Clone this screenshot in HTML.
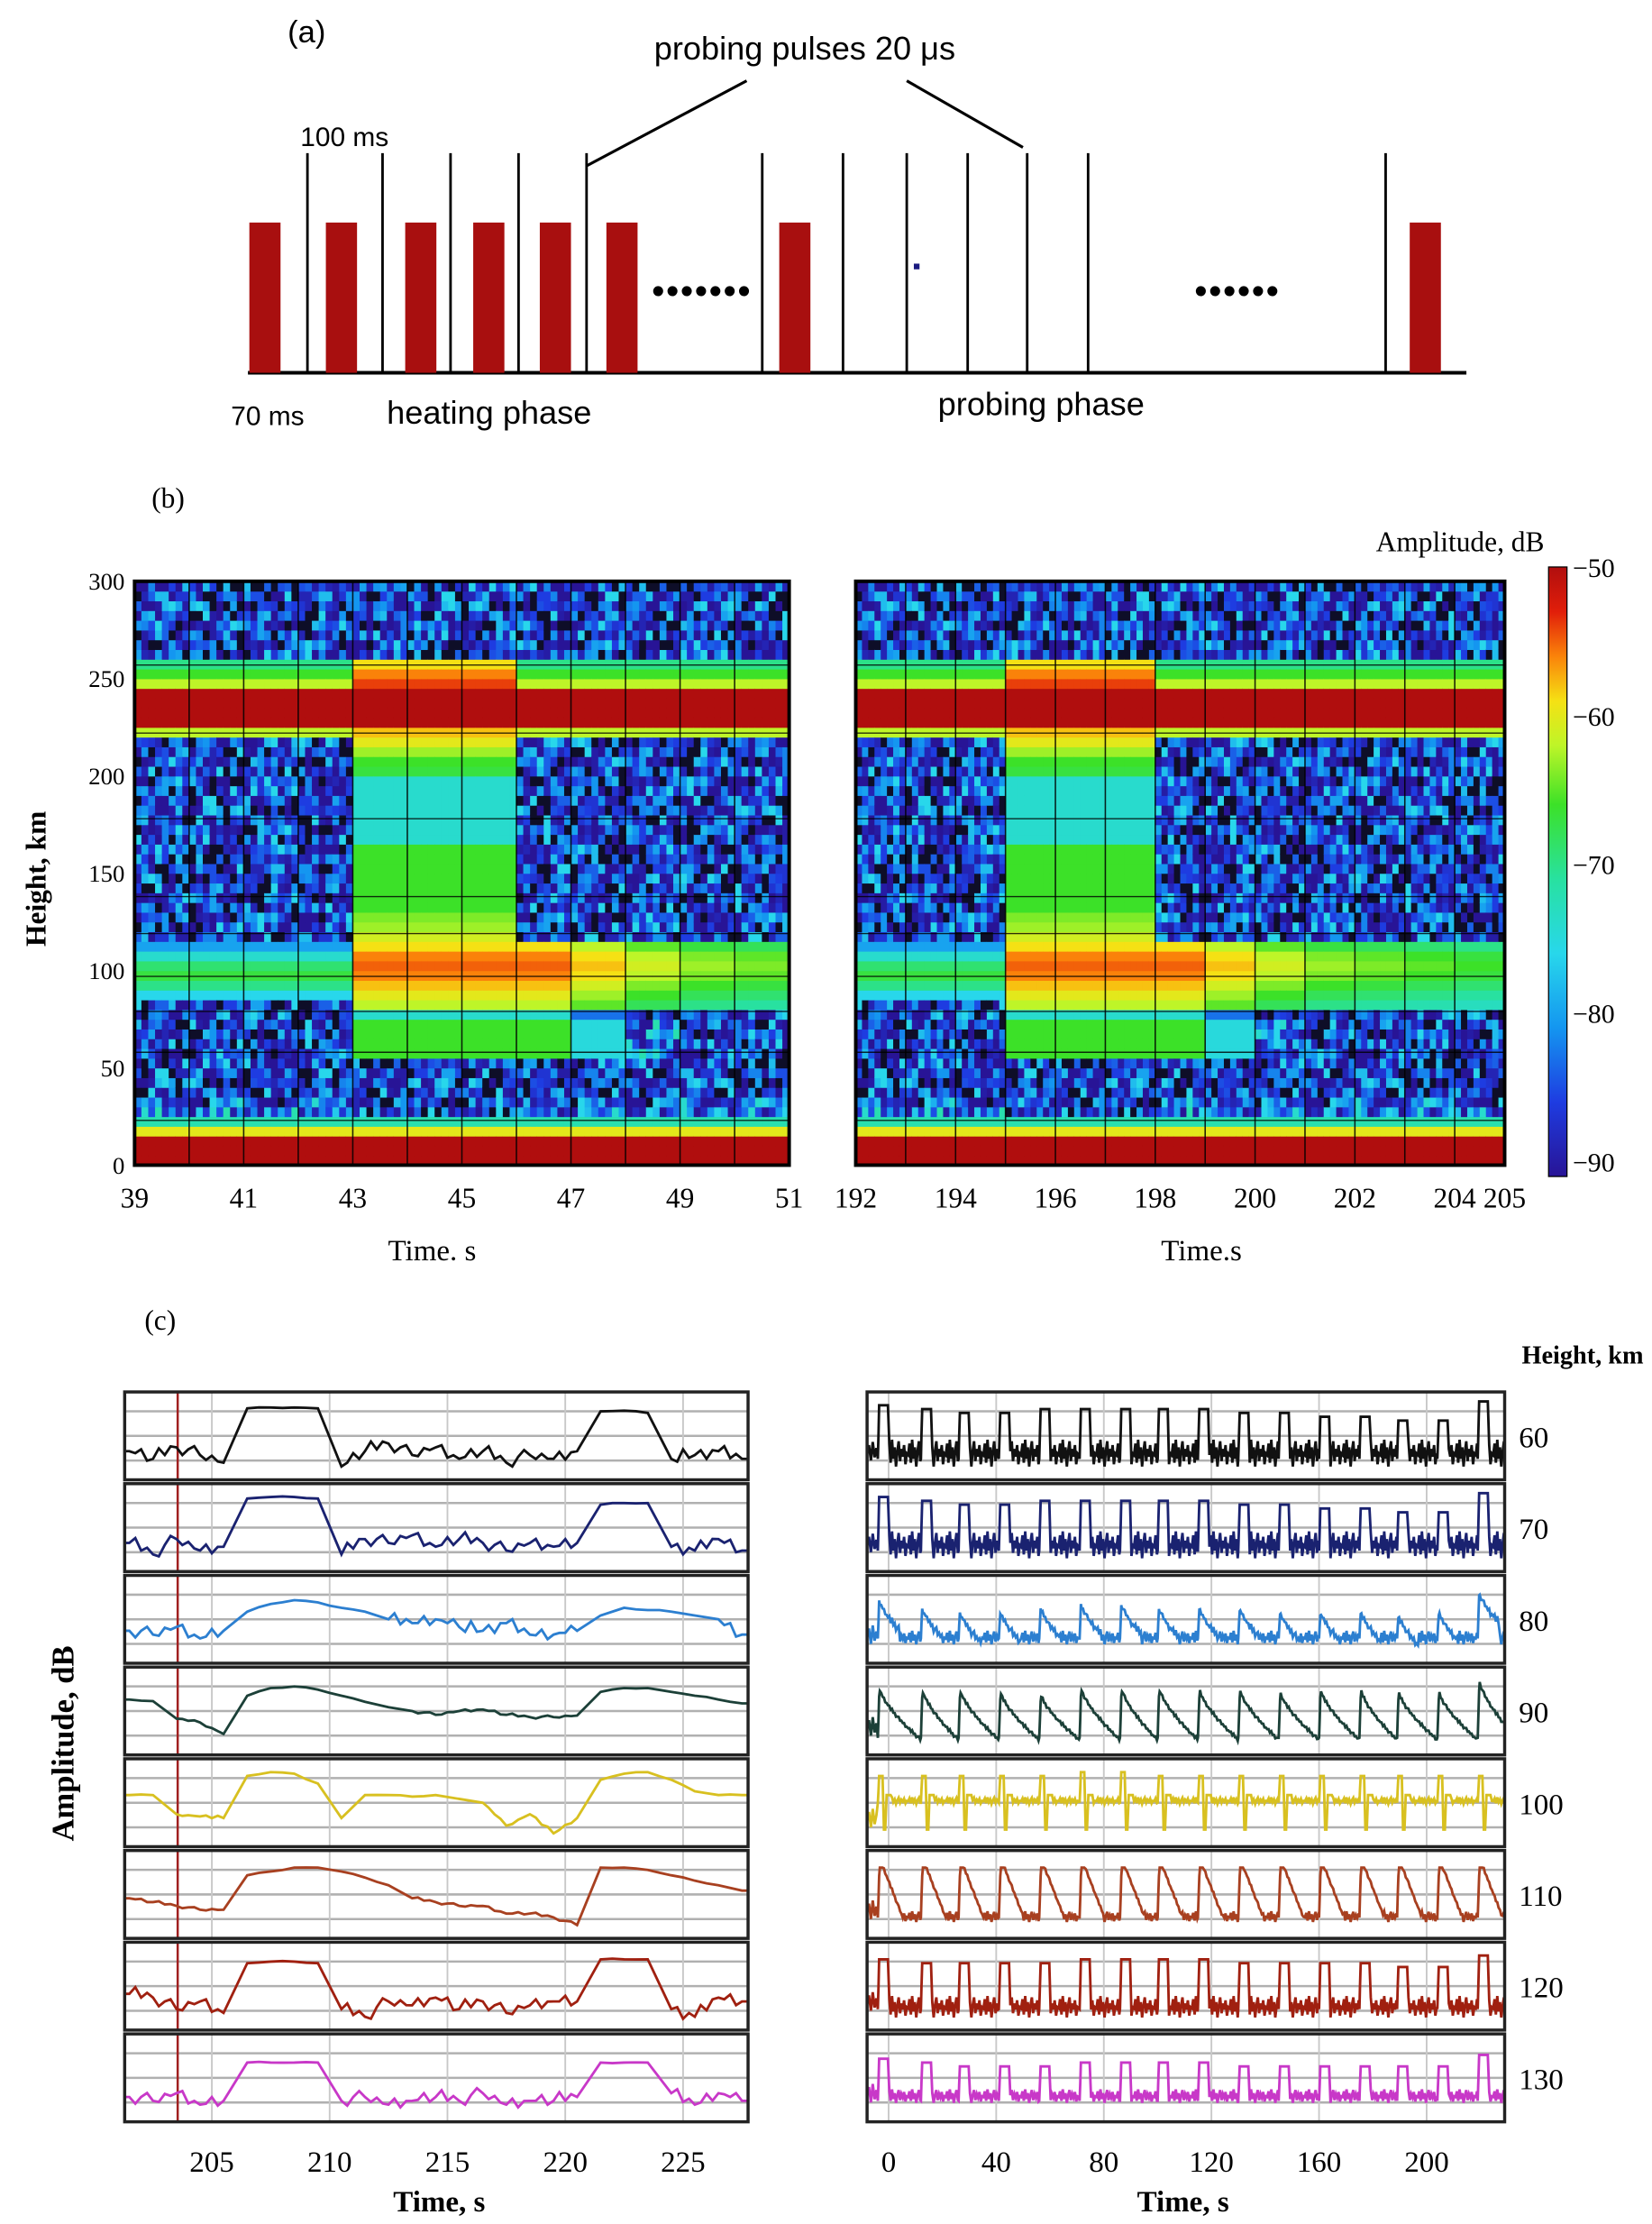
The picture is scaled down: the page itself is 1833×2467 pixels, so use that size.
<!DOCTYPE html>
<html><head><meta charset="utf-8"><style>
html,body{margin:0;padding:0;background:#fff}
svg{display:block}
.sans{font-family:"Liberation Sans",sans-serif}
.serif{font-family:"Liberation Serif",serif}
</style></head><body>
<svg id="fig" width="1833" height="2467" viewBox="0 0 1166 1569" preserveAspectRatio="none" xmlns="http://www.w3.org/2000/svg">
<rect width="1166" height="1569" fill="#fff"/>
<g id="panelA">
<text x="203" y="30" class="sans" font-size="22">(a)</text>
<text x="568" y="42" class="sans" font-size="23" text-anchor="middle">probing pulses 20 μs</text>
<line x1="527" y1="57" x2="414" y2="117" stroke="#000" stroke-width="2"/>
<line x1="640" y1="57" x2="722" y2="104" stroke="#000" stroke-width="2"/>
<text x="212" y="103" class="sans" font-size="19">100 ms</text>
<line x1="175" y1="263" x2="1035" y2="263" stroke="#000" stroke-width="2.5"/>
<g id="pulses"></g>
<text x="460" y="214" class="sans" font-size="26" letter-spacing="1">•••••••</text>
<text x="843" y="214" class="sans" font-size="26" letter-spacing="1">••••••</text>
<rect x="645" y="186" width="4" height="4" fill="#1a1a80"/>
<text x="163" y="300" class="sans" font-size="19">70 ms</text>
<text x="273" y="299" class="sans" font-size="23">heating phase</text>
<text x="662" y="293" class="sans" font-size="23">probing phase</text>
</g>
<text x="107" y="358" class="serif" font-size="20">(b)</text>
<text x="1090" y="389" class="serif" font-size="20" text-anchor="end">Amplitude, dB</text>
<text transform="translate(32,620) rotate(-90)" class="serif" font-size="20" text-anchor="middle" font-weight="bold">Height, km</text>
<g id="hmLeft"></g>
<g id="hmRight"></g>
<defs><linearGradient id="jet" x1="0" y1="0" x2="0" y2="1"></linearGradient></defs>
<rect x="1093" y="400" width="13" height="430" fill="url(#jet)" stroke="#000" stroke-width="0.8"/>
<g id="cbTicks"></g>
<text x="305" y="889" class="serif" font-size="21" text-anchor="middle">Time. s</text>
<text x="848" y="889" class="serif" font-size="21" text-anchor="middle">Time.s</text>
<text x="102" y="938" class="serif" font-size="20">(c)</text>
<text x="1160" y="962" class="serif" font-size="18" text-anchor="end" font-weight="bold">Height, km</text>
<text transform="translate(52,1230) rotate(-90)" class="serif" font-size="22" text-anchor="middle" font-weight="bold">Amplitude, dB</text>
<g id="tsLeft"></g>
<g id="tsRight"></g>
<text x="310" y="1560" class="serif" font-size="21" text-anchor="middle" font-weight="bold">Time, s</text>
<text x="835" y="1560" class="serif" font-size="21" text-anchor="middle" font-weight="bold">Time, s</text>
</svg>
<script>
const heatBarX = [176,230,286,334,381,428,550,995];
const probeLineX = [217,270,318,366,414,538,595,640,683,725,768,978];

const hmHeightsTop = [5,10,15,20,25,30,35,40,45,50,55,60,65,70,75,80,85,90,95,100,105,110,115,120,125,130,135,140,145,150,155,160,165,170,175,180,185,190,195,200,205,210,215,220,225,230,235,240,245,250,255,260,265,270,275,280,285,290,295,300];
const quietProfile = [-50,-50,-50,-60,-72,-84,-86,-88,-88,-88,-88,-88,-88,-88,-88,-88,-88,-76,-70,-67,-69,-74,-80,-88,-88,-88,-88,-88,-88,-88,-88,-88,-88,-88,-88,-88,-88,-88,-88,-88,-88,-88,-88,-88,-62,-50,-50,-50,-50,-62,-66,-70,-88,-88,-88,-88,-88,-88,-88,-88];
const heatedProfile = [-50,-50,-50,-60,-72,-88,-88,-88,-88,-88,-88,-66,-66,-66,-66,-74,-62,-60,-58,-56,-55,-56,-59,-61,-63,-64,-66,-66,-66,-66,-66,-66,-66,-74,-74,-74,-74,-74,-74,-74,-67,-66,-63,-60,-58,-50,-50,-50,-50,-54,-56,-59,-88,-88,-88,-88,-88,-88,-88,-88];
const afterDecay = [0,-3,-6,-8,-9,-10,-11,-11,-12,-12,-12];
const noiseJitter = [-6,4,-2,8,-9,1,6,-4,10,-7,3,-1,7,-5,12,-3,2];
const leftTicks = [39,41,43,45,47,49,51];
const rightTicks = [192,194,196,198,200,202,204,205];
const heightTicks = [0,50,100,150,200,250,300];
const hLines = [23,58,79,97,119,138,178,222,257];
const cbTicks = [-50,-60,-70,-80,-90];
const heatLeft = [43,46];
const heatRight = [195,198];

const leftTimes = [201.5,202.5,203.5,204.5,205.5,206.5,207.5,208.5,209.5,210.5,211.5,212.5,213.5,214.5,215.5,216.5,217.5,218.5,219.5,220.5,221.5,222.5,223.5,224.5,225.5,226.5,227.5];
const r60 = [.3,.2,.35,.25,.15,.86,.87,.87,.86,.1,.3,.4,.25,.35,.2,.3,.15,.25,.2,.3,.82,.83,.8,.2,.25,.3,.2];
const r70 = [.3,.15,.35,.2,.25,.88,.9,.9,.88,.15,.35,.3,.4,.25,.35,.3,.2,.3,.25,.3,.8,.82,.82,.25,.2,.35,.2];
const r80 = [.35,.3,.4,.25,.35,.6,.7,.75,.72,.65,.6,.5,.45,.5,.4,.35,.45,.3,.3,.35,.55,.65,.62,.6,.55,.5,.3];
const r90 = [.65,.63,.4,.35,.2,.7,.8,.82,.78,.7,.62,.55,.5,.45,.5,.52,.45,.42,.42,.44,.75,.8,.8,.75,.7,.65,.6];
const r100 = [.6,.6,.35,.32,.3,.85,.9,.88,.75,.3,.6,.6,.58,.6,.55,.5,.2,.35,.1,.3,.8,.88,.9,.8,.65,.6,.6];
const r110 = [.45,.4,.35,.3,.3,.75,.8,.85,.85,.8,.72,.62,.45,.4,.35,.35,.25,.25,.2,.1,.85,.85,.82,.75,.68,.62,.55];
const r120 = [.4,.35,.2,.3,.15,.8,.82,.82,.8,.2,.1,.3,.25,.35,.2,.3,.15,.25,.3,.3,.85,.85,.85,.2,.1,.35,.3];
const r130 = [.25,.2,.3,.15,.2,.7,.7,.7,.7,.2,.25,.15,.2,.25,.2,.3,.15,.2,.2,.25,.7,.7,.7,.3,.15,.3,.2];
const leftTicksC = [205,210,215,220,225];
const heightLabels = [60,70,80,90,100,110,120,130];

const cycleStarts = [-4,12,26,41,56,71,86,100,115,130,145,160,175,189,204,219];
const p60 = [.9,.85,.8,.8,.85,.85,.85,.85,.85,.8,.8,.75,.75,.7,.7,.95];
const p70 = [.9,.85,.8,.8,.85,.85,.85,.85,.85,.8,.8,.75,.75,.7,.7,.95];
const p80 = [.75,.65,.6,.6,.65,.7,.7,.65,.65,.65,.6,.6,.6,.55,.6,.85];
const p90 = [.8,.78,.78,.75,.72,.8,.8,.8,.78,.78,.75,.78,.78,.75,.75,.9];
const p100 = [.85,.85,.85,.85,.85,.9,.9,.85,.85,.85,.85,.85,.85,.85,.85,.85];
const p110 = [.85,.85,.85,.85,.85,.85,.85,.85,.85,.85,.85,.85,.85,.85,.85,.85];
const p120 = [.85,.8,.8,.8,.8,.85,.85,.85,.85,.8,.8,.8,.8,.75,.75,.9];
const p130 = [.75,.7,.65,.65,.65,.7,.7,.7,.7,.65,.65,.65,.65,.65,.65,.8];
const noisePattern = [.2,.35,.1,.4,.15,.3,.05,.25,.38,.12,.28,.18,.33,.08,.22];
const rightTicksC = [0,40,80,120,160,200];

const NS = 'http://www.w3.org/2000/svg';
function mk(tag, attrs, parent){
  const e = document.createElementNS(NS, tag);
  for (const k in attrs) e.setAttribute(k, attrs[k]);
  parent.appendChild(e);
  return e;
}
const fig = document.getElementById('fig');

const pulsesG = document.getElementById('pulses');
heatBarX.forEach((x,i)=>{
  const r = mk('rect',{x:x,y:157,width:22,height:106,fill:'#a80f0f'},pulsesG);
  
  
});
probeLineX.forEach((x,i)=>{
  const l = mk('line',{x1:x,y1:108,x2:x,y2:263,stroke:'#000','stroke-width':1.8},pulsesG);
  
  
});

const cmap = [[-50,[176,14,14]],[-53,[225,30,10]],[-56,[250,130,10]],[-59,[245,225,20]],[-62,[190,245,40]],[-66,[60,225,40]],[-71,[40,225,160]],[-76,[40,215,235]],[-81,[20,150,240]],[-86,[30,60,225]],[-91,[40,20,150]]];
function jet(v){
  if (v < -93) return 'rgb(14,14,40)';
  if (v >= cmap[0][0]) return 'rgb('+cmap[0][1].join(',')+')';
  for (let i=0;i<cmap.length-1;i++){
    const a=cmap[i], b=cmap[i+1];
    if (v<=a[0] && v>=b[0]){
      const f=(a[0]-v)/(a[0]-b[0]);
      return 'rgb('+[0,1,2].map(k=>Math.round(a[1][k]+(b[1][k]-a[1][k])*f)).join(',')+')';
    }
  }
  return 'rgb('+cmap[cmap.length-1][1].join(',')+')';
}
const grad = document.getElementById('jet');
cmap.forEach(s=>{
  mk('stop',{offset:((-50-s[0])/41).toFixed(3),'stop-color':'rgb('+s[1].join(',')+')'},grad);
});

function drawHeatmap(gid, t0, t1, x0, x1, heat, ticks){
  const g = document.getElementById(gid);
  const y0 = 822, kmPx = 1.373;
  const tx = t => x0 + (t-t0)/(t1-t0)*(x1-x0);
  const hy = h => y0 - h*kmPx;
  const dt = 0.125;
  const ncol = Math.round((t1-t0)/dt);
  for (let i=0;i<ncol;i++){
    const t = t0 + (i+0.5)*dt;
    for (let j=0;j<hmHeightsTop.length;j++){
      let v = quietProfile[j];
      if (t>=heat[0] && t<heat[1]) v = heatedProfile[j];
      else if (t>=heat[1]){
        const h = hmHeightsTop[j];
        if (h>55 && h<=115){
          const k = Math.min(afterDecay.length-1, Math.floor((t-heat[1])));
          const dv = heatedProfile[j] + afterDecay[k]*(h<=80?3:1);
          v = Math.max(v, dv);
        }
      }
      if (v <= -84) v += noiseJitter[(i*5 + j*3 + (i*j)%7) % noiseJitter.length];
      const r = mk('rect',{x:tx(t-dt/2).toFixed(2),y:hy(hmHeightsTop[j]).toFixed(2),width:((x1-x0)*dt/(t1-t0)+0.4).toFixed(2),height:(5*kmPx+0.4).toFixed(2),fill:jet(v)},g);
      
      
    }
  }
  for (let t=Math.ceil(t0); t<t1; t++){
    if (t<=t0) continue;
    mk('line',{x1:tx(t),y1:hy(300),x2:tx(t),y2:y0,stroke:'#000','stroke-width':1,opacity:0.85},g);
  }
  hLines.forEach(h=>mk('line',{x1:x0,y1:hy(h),x2:x1,y2:hy(h),stroke:'#000','stroke-width':0.9,opacity:0.8},g));
  const fr = mk('rect',{x:x0,y:hy(300),width:x1-x0,height:300*kmPx,fill:'none',stroke:'#000','stroke-width':2.5},g);
  
  
  ticks.forEach(tv=>{
    const tt = mk('text',{x:tx(tv),y:852,'text-anchor':'middle','font-size':20,'class':'serif'},g);
    tt.textContent = tv;
    
    
  });
}
drawHeatmap('hmLeft',39,51,95,557,heatLeft,leftTicks);
drawHeatmap('hmRight',192,205,604,1062,heatRight,rightTicks);
const hmL = document.getElementById('hmLeft');
heightTicks.forEach(h=>{
  const t = mk('text',{x:88,y:822-h*1.373+6,'text-anchor':'end','font-size':17,'class':'serif'},hmL);
  t.textContent = h;
  
  
});
const cbG = document.getElementById('cbTicks');
cbTicks.forEach(v=>{
  const y = 400 + (-50 - v)/41*430 + 7;
  const t = mk('text',{x:1110,y:y,'font-size':19,'class':'serif'},cbG);
  t.textContent = '\u2212' + Math.abs(v);
  
  
});

const rowColors = ['#111111','#1a2270','#2c7fd0','#1c4038','#d8c020','#a84020','#a02010','#c838c8'];
const leftSeries = [r60,r70,r80,r90,r100,r110,r120,r130];
const rightPeaks = [p60,p70,p80,p90,p100,p110,p120,p130];
const rowTypes = ['sq','sq','r80','r90','r100','r110','sq','sq'];
const noisyRows = [true,true,true,false,false,false,true,true];
const tops = [982,1046.7,1111.4,1176.1,1240.8,1305.5,1370.2,1434.9];
const H = 62;
const clipDefs = mk('defs',{},fig);
function vy(top,v){ return top + H - 4 - v*(H-8); }
const gL = document.getElementById('tsLeft');
const gR = document.getElementById('tsRight');
const lx = t => 88 + (t-201.3)*(444/26.7);
const rx = t => 612 + (t+8)*(450/237);

function panelBox(g, x0, x1, top, idx, side, vTicks, xf){
  const cp = mk('clipPath',{id:'c'+side+idx},clipDefs);
  mk('rect',{x:x0,y:top,width:x1-x0,height:H},cp);
  [0.22,0.5,0.78].forEach(f=>mk('line',{x1:x0,y1:top+H*f,x2:x1,y2:top+H*f,stroke:'#b0b0b0','stroke-width':1.6},g));
  vTicks.forEach(t=>mk('line',{x1:xf(t),y1:top,x2:xf(t),y2:top+H,stroke:'#c8c8c8','stroke-width':1.2},g));
}
function frame(g,x0,x1,top,name){
  const f = mk('rect',{x:x0,y:top,width:x1-x0,height:H,fill:'none',stroke:'#222','stroke-width':2.2},g);
  
  
}

leftSeries.forEach((vals,i)=>{
  const top = tops[i];
  panelBox(gL,88,528,top,i,'L',leftTicksC,lx);
  mk('line',{x1:lx(203.55),y1:top,x2:lx(203.55),y2:top+H,stroke:'#a02020','stroke-width':1.6},gL);
  let d = 'M88,'+vy(top,vals[0]).toFixed(1);
  let c = i*3;
  leftTimes.forEach((t,k)=>{
    d += ' L'+lx(t).toFixed(1)+','+vy(top,vals[k]).toFixed(1);
    if (k+1<vals.length){
      const a=vals[k], b=vals[k+1];
      const amp = noisyRows[i] ? 0.5 : 0.12;
      if (a<0.55 && b<0.55){
        for (let q=1;q<=3;q++){
          const v = a+(b-a)*q/4 + (noisePattern[c++ % noisePattern.length]-0.2)*amp;
          d += ' L'+lx(t+q/4).toFixed(1)+','+vy(top,Math.max(0.02,v)).toFixed(1);
        }
      } else if (a>0.55 && b>0.55){
        const v = (a+b)/2 + (noisePattern[c++ % noisePattern.length]-0.2)*0.05;
        d += ' L'+lx(t+0.5).toFixed(1)+','+vy(top,v).toFixed(1);
      }
    }
  });
  d += ' L528,'+vy(top,vals[vals.length-1]).toFixed(1);
  const p = mk('path',{d:d,fill:'none',stroke:rowColors[i],'stroke-width':1.8,'clip-path':'url(#cL'+i+')'},gL);
  
  
  frame(gL,88,528,top,'subplot-left-'+heightLabels[i]);
});
leftTicksC.forEach(t=>{
  const tt = mk('text',{x:lx(t),y:1532,'text-anchor':'middle','font-size':21,'class':'serif'},gL);
  tt.textContent = t;
  
  
});

function shape(type,u,L,p,n,rowIdx){
  if (type==='sq'){
    if (u<0.5) return 0.2 + (p-0.2)*u/0.5;
    if (u<4.2) return p;
    const sc = rowIdx===7 ? 0.5 : (rowIdx===6 ? 0.8 : 1);
    return 0.05 + n*sc + (rowIdx===7?0.1:0);
  }
  if (type==='r80'){
    if (u<0.5) return 0.25 + (p-0.25)*u/0.5;
    if (u<4) return p - u*0.06 + (n-0.2)*0.15;
    if (u<8) return p - 0.3 - (u-4)*0.04 + n*0.3;
    return 0.15 + n*0.5;
  }
  if (type==='r90'){
    if (u<0.6) return 0.15 + (p-0.15)*u/0.6;
    return p - (p-0.12)*Math.pow((u-0.6)/(L-0.6),0.7) + (n-0.2)*0.12;
  }
  if (type==='r100'){
    if (u<0.5) return 0.5 + (p-0.5)*u/0.5;
    if (u<1.8) return p;
    if (u<3.2) return 0.15;
    if (u<5) return 0.6;
    return 0.52 + (n-0.2)*0.25;
  }
  if (type==='r110'){
    if (u<0.6) return 0.2 + (p-0.2)*u/0.6;
    if (u<2) return p;
    if (u<9) return p - (p-0.22)*(u-2)/7 + (n-0.2)*0.1;
    return 0.12 + n*0.4;
  }
  return n;
}
rightPeaks.forEach((peaks,i)=>{
  const top = tops[i];
  panelBox(gR,612,1062,top,i,'R',rightTicksC,rx);
  let d = '', c = 0;
  for (let t=-8; t<cycleStarts[0]; t+=0.7){
    const v = 0.1 + noisePattern[c++ % noisePattern.length]*0.8;
    d += (d?' L':'M')+rx(t).toFixed(1)+','+vy(top,v).toFixed(1);
  }
  cycleStarts.forEach((s,k)=>{
    const next = k+1<cycleStarts.length ? cycleStarts[k+1] : s+15;
    const L = next - s;
    for (let u=0; u<L; u+=(u<0.6?0.25:0.5)){
      const n = noisePattern[c++ % noisePattern.length];
      const v = shape(rowTypes[i],u,L,peaks[k],n,i);
      d += ' L'+rx(s+u).toFixed(1)+','+vy(top,v).toFixed(1);
    }
  });
  const p = mk('path',{d:d,fill:'none',stroke:rowColors[i],'stroke-width':1.8,'clip-path':'url(#cR'+i+')'},gR);
  
  
  frame(gR,612,1062,top,'subplot-right-'+heightLabels[i]);
  const lab = mk('text',{x:1072,y:top+H/2+8,'font-size':21,'class':'serif'},gR);
  lab.textContent = heightLabels[i];
  
  
});
rightTicksC.forEach(t=>{
  const tt = mk('text',{x:rx(t),y:1532,'text-anchor':'middle','font-size':21,'class':'serif'},gR);
  tt.textContent = t;
  
  
});
</script>
</body></html>
